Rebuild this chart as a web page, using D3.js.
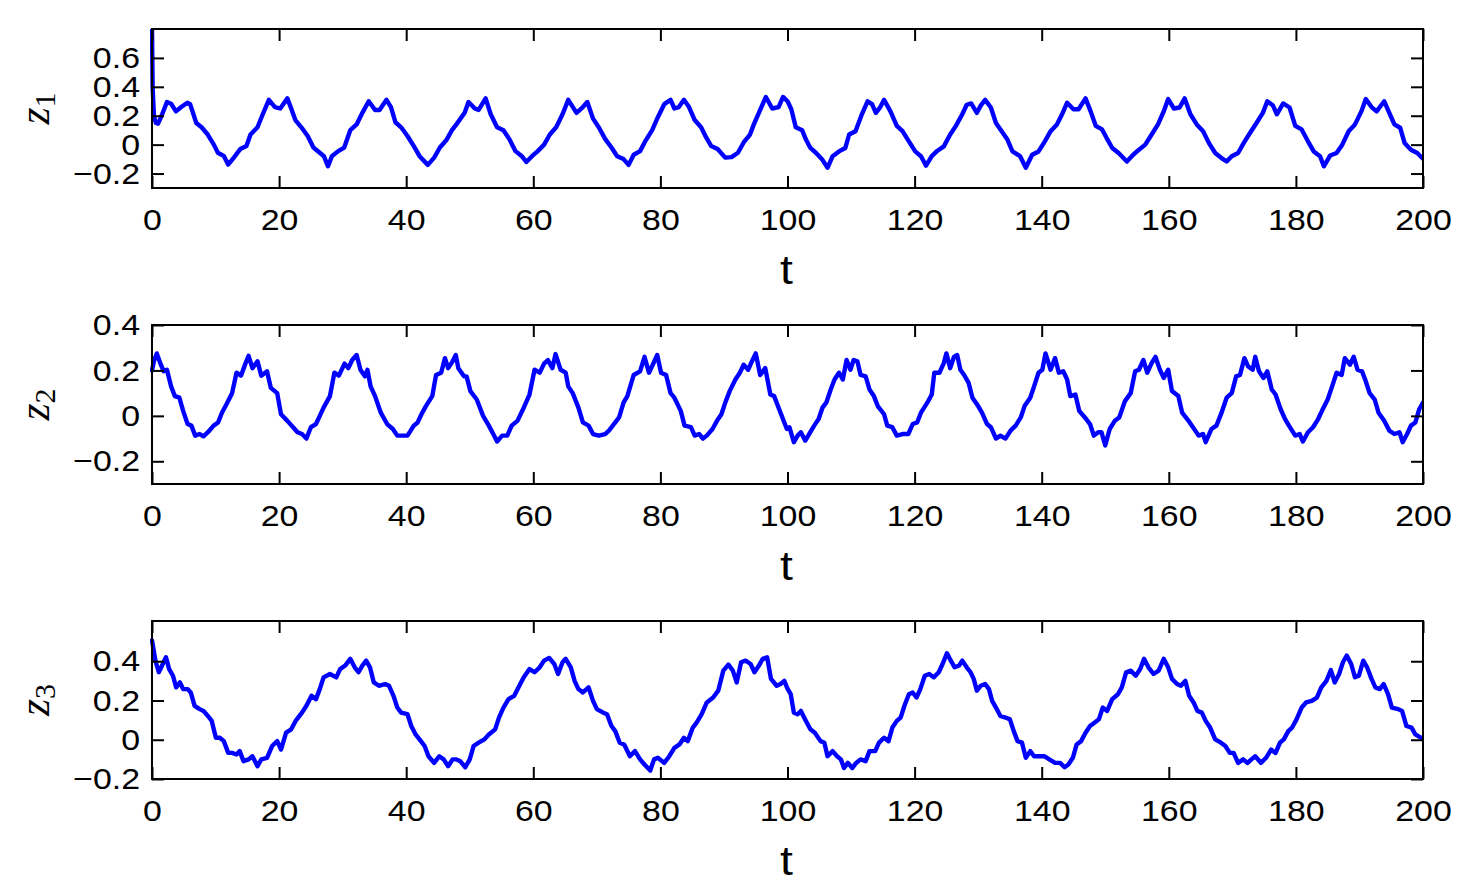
<!DOCTYPE html>
<html>
<head>
<meta charset="utf-8">
<script src="https://cdn.jsdelivr.net/npm/d3@7"></script>
<style>
  html, body { margin: 0; padding: 0; background: #fff; }
  svg { display: block; }
</style>
</head>
<body>
<svg id="chart" width="1481" height="896"></svg>
<script>
// ---------------- DATA ----------------
const xTicks = [0, 20, 40, 60, 80, 100, 120, 140, 160, 180, 200];
const z1Ticks = [-0.2, 0, 0.2, 0.4, 0.6];
const z2Ticks = [-0.2, 0, 0.2, 0.4];
const z3Ticks = [-0.2, 0, 0.2, 0.4];
const z1Domain = [-0.3, 0.8];
const z2Domain = [-0.3, 0.4];
const z3Domain = [-0.2, 0.605];
const panelLabels = ["1", "2", "3"];

const z1 = [[0,0.80],[0.1,0.40],[0.3,0.20],[0.6,0.15],[0.95,0.145],[1.6,0.21],[2.35,0.295],[3.0,0.283],[3.77,0.23],[4.6,0.26],[5.56,0.29],[6.0,0.28],[6.52,0.21],[6.97,0.15],[7.8,0.12],[8.77,0.07],[9.73,0.0],[10.37,-0.056],[11.33,-0.08],[11.98,-0.138],[12.94,-0.086],[13.9,-0.03],[14.86,-0.01],[15.5,0.07],[16.6,0.12],[17.43,0.21],[18.39,0.31],[19.35,0.26],[20.18,0.25],[21.3,0.32],[21.9,0.25],[22.56,0.17],[23.5,0.12],[24.5,0.06],[25.4,-0.02],[26.4,-0.056],[27.05,-0.08],[27.7,-0.15],[28.3,-0.08],[29.3,-0.045],[30.25,-0.02],[31.2,0.1],[32.2,0.14],[33.1,0.22],[34.1,0.30],[35.1,0.24],[35.8,0.24],[36.9,0.31],[37.6,0.26],[38.3,0.155],[39.2,0.12],[40.2,0.06],[41.2,-0.01],[42.1,-0.08],[43.4,-0.14],[44.4,-0.09],[45.3,-0.02],[46.3,0.03],[47.2,0.1],[47.9,0.14],[49.2,0.22],[49.8,0.295],[50.8,0.25],[51.4,0.24],[52.5,0.32],[53.3,0.21],[54.3,0.12],[55.3,0.1],[56.2,0.04],[57.2,-0.045],[58.2,-0.08],[58.9,-0.12],[59.8,-0.08],[60.7,-0.045],[61.7,0.0],[62.6,0.07],[63.6,0.12],[64.6,0.21],[65.5,0.31],[66.8,0.22],[67.8,0.26],[68.5,0.295],[69.4,0.18],[70.3,0.12],[71.3,0.04],[72.3,-0.02],[73.2,-0.08],[74.2,-0.1],[75.0,-0.14],[75.8,-0.07],[76.8,-0.045],[77.7,0.03],[78.7,0.1],[79.6,0.19],[80.6,0.28],[81.6,0.31],[82.2,0.25],[82.9,0.26],[83.7,0.31],[84.5,0.26],[85.4,0.17],[86.4,0.12],[87.2,0.05],[88.0,-0.01],[89.0,-0.03],[90.2,-0.09],[91.2,-0.086],[92.2,-0.056],[93.1,0.015],[94.1,0.07],[94.7,0.14],[95.7,0.24],[96.6,0.33],[97.6,0.25],[98.6,0.26],[99.3,0.33],[100.0,0.30],[100.6,0.245],[101.3,0.12],[102.3,0.10],[102.9,0.035],[103.6,-0.023],[104.5,-0.058],[105.5,-0.105],[106.3,-0.16],[107.1,-0.08],[108.1,-0.047],[109.1,-0.023],[109.7,0.07],[110.7,0.093],[111.7,0.21],[112.6,0.30],[113.3,0.28],[113.9,0.22],[114.6,0.26],[115.2,0.31],[116.2,0.23],[117.2,0.13],[118.1,0.093],[119.1,0.023],[120.1,-0.047],[121.0,-0.08],[121.8,-0.145],[122.7,-0.08],[123.6,-0.042],[124.6,-0.012],[125.6,0.07],[126.5,0.13],[127.5,0.21],[128.2,0.276],[128.9,0.285],[129.8,0.22],[130.4,0.27],[131.1,0.31],[132.0,0.257],[132.8,0.15],[133.7,0.093],[134.6,0.035],[135.4,-0.047],[136.6,-0.08],[137.5,-0.16],[138.5,-0.07],[139.5,-0.047],[140.5,0.023],[141.4,0.093],[142.4,0.14],[143.2,0.21],[144.0,0.29],[145.0,0.245],[145.8,0.245],[146.9,0.32],[147.7,0.23],[148.5,0.13],[149.5,0.105],[150.2,0.047],[151.1,-0.023],[152.1,-0.058],[153.4,-0.117],[154.4,-0.07],[155.3,-0.035],[156.3,0.0],[157.3,0.07],[158.3,0.14],[159.2,0.23],[159.9,0.315],[160.8,0.25],[161.7,0.257],[162.5,0.32],[163.4,0.21],[164.4,0.14],[165.4,0.093],[166.3,0.012],[167.3,-0.058],[168.3,-0.093],[169.1,-0.117],[169.9,-0.08],[170.9,-0.058],[171.8,0.012],[172.8,0.082],[173.8,0.15],[174.8,0.22],[175.5,0.30],[176.4,0.27],[177.0,0.21],[178.0,0.285],[179.0,0.257],[179.9,0.13],[180.9,0.105],[181.9,0.023],[182.8,-0.047],[183.8,-0.08],[184.4,-0.15],[185.4,-0.075],[186.4,-0.058],[187.3,0.0],[188.3,0.093],[189.3,0.14],[190.3,0.23],[191.0,0.315],[191.9,0.26],[192.7,0.23],[193.9,0.30],[194.8,0.21],[195.5,0.14],[196.4,0.117],[197.1,0.012],[198.1,-0.035],[199.1,-0.058],[200,-0.098]];

const z2 = [[0,0.20],[0.3,0.24],[0.75,0.275],[1.4,0.225],[1.85,0.196],[2.35,0.203],[3.0,0.13],[3.6,0.087],[4.3,0.08],[4.9,0.022],[5.6,-0.036],[6.2,-0.043],[6.8,-0.087],[7.5,-0.08],[8.1,-0.09],[8.8,-0.072],[9.7,-0.043],[10.4,-0.029],[11.0,0.014],[11.7,0.05],[12.6,0.1],[13.3,0.19],[14.0,0.177],[14.7,0.23],[15.2,0.264],[15.8,0.21],[16.6,0.24],[17.2,0.177],[18.1,0.196],[18.7,0.123],[19.7,0.1],[20.3,0.007],[21.3,-0.022],[22.2,-0.05],[22.9,-0.072],[23.6,-0.08],[24.3,-0.1],[25.0,-0.05],[25.8,-0.036],[26.4,0.0],[27.0,0.036],[28.0,0.087],[28.7,0.19],[29.4,0.177],[30.3,0.23],[30.9,0.21],[31.5,0.246],[32.2,0.268],[32.8,0.203],[33.5,0.174],[33.9,0.203],[34.4,0.13],[35.1,0.087],[36.0,0.014],[37.0,-0.036],[37.9,-0.058],[38.6,-0.087],[39.6,-0.087],[40.2,-0.087],[41.2,-0.043],[41.8,-0.029],[42.4,0.007],[43.1,0.043],[44.1,0.087],[44.7,0.18],[45.5,0.19],[46.1,0.254],[46.6,0.21],[47.3,0.24],[47.8,0.268],[48.2,0.21],[49.1,0.174],[49.5,0.174],[50.1,0.109],[51.1,0.072],[52.1,0.0],[53.0,-0.043],[53.7,-0.08],[54.3,-0.113],[55.1,-0.087],[55.9,-0.087],[56.6,-0.043],[57.5,-0.022],[58.5,0.036],[59.4,0.094],[60.2,0.203],[61.0,0.19],[61.7,0.23],[62.3,0.246],[63.0,0.21],[63.5,0.272],[64.3,0.203],[65.1,0.19],[65.5,0.13],[66.2,0.1],[67.1,0.036],[67.8,-0.029],[68.7,-0.043],[69.4,-0.08],[70.3,-0.087],[71.3,-0.08],[71.9,-0.065],[72.9,-0.029],[73.5,-0.007],[74.2,0.058],[74.8,0.087],[75.8,0.18],[76.8,0.196],[77.5,0.26],[78.2,0.19],[78.8,0.225],[79.5,0.268],[80.1,0.19],[80.9,0.18],[81.6,0.1],[82.2,0.08],[83.2,0.022],[83.8,-0.043],[84.8,-0.05],[85.4,-0.087],[86.1,-0.08],[86.7,-0.1],[87.3,-0.087],[88.2,-0.058],[88.9,-0.022],[89.6,0.007],[90.2,0.058],[90.9,0.109],[91.8,0.16],[92.5,0.19],[93.1,0.225],[93.8,0.203],[94.4,0.24],[95.0,0.275],[95.7,0.18],[96.5,0.21],[97.3,0.094],[97.9,0.087],[98.9,0.014],[99.9,-0.058],[100.3,-0.05],[101.0,-0.116],[101.6,-0.087],[102.1,-0.072],[102.8,-0.109],[103.4,-0.08],[104.2,-0.043],[104.9,-0.014],[105.5,0.036],[106.1,0.058],[106.8,0.116],[107.4,0.16],[108.1,0.19],[108.7,0.16],[109.3,0.246],[109.9,0.203],[110.4,0.246],[111.0,0.24],[111.5,0.18],[112.3,0.174],[112.9,0.116],[113.6,0.087],[114.2,0.043],[115.2,0.007],[115.7,-0.043],[116.5,-0.05],[117.2,-0.087],[118.1,-0.08],[119.0,-0.08],[119.7,-0.036],[120.4,-0.029],[121.0,0.014],[122.0,0.058],[122.7,0.094],[123.1,0.19],[123.9,0.19],[124.6,0.232],[125.0,0.275],[125.6,0.21],[126.2,0.26],[126.7,0.268],[127.2,0.203],[127.8,0.18],[128.5,0.145],[129.1,0.08],[130.0,0.043],[130.6,0.014],[131.4,-0.036],[132.0,-0.05],[132.8,-0.1],[133.5,-0.087],[134.3,-0.1],[135.1,-0.065],[135.9,-0.043],[136.7,-0.007],[137.3,0.043],[138.2,0.08],[138.8,0.13],[139.5,0.19],[140.1,0.203],[140.6,0.275],[141.4,0.203],[142.1,0.254],[142.7,0.19],[143.4,0.196],[144.0,0.16],[144.5,0.087],[145.3,0.094],[145.9,0.022],[146.8,-0.007],[147.6,-0.036],[148.2,-0.087],[148.9,-0.072],[149.4,-0.072],[150.0,-0.13],[150.7,-0.058],[151.5,-0.022],[152.2,-0.007],[153.1,0.065],[154.0,0.1],[154.7,0.196],[155.3,0.203],[156.0,0.246],[156.6,0.19],[157.3,0.232],[157.9,0.26],[158.6,0.203],[159.2,0.167],[159.9,0.203],[160.5,0.109],[161.5,0.087],[162.1,0.014],[163.1,-0.022],[163.8,-0.05],[164.7,-0.087],[165.4,-0.08],[165.8,-0.116],[166.7,-0.058],[167.5,-0.043],[168.3,0.014],[169.1,0.08],[169.9,0.1],[170.6,0.174],[171.2,0.18],[171.9,0.254],[172.5,0.217],[173.2,0.203],[173.6,0.26],[174.2,0.196],[174.9,0.167],[175.5,0.196],[176.2,0.116],[176.8,0.094],[177.6,0.029],[178.3,-0.014],[178.9,-0.043],[179.9,-0.087],[180.6,-0.08],[181.1,-0.113],[181.9,-0.072],[182.7,-0.05],[183.5,-0.014],[184.1,0.022],[185.0,0.072],[185.7,0.13],[186.4,0.19],[187.2,0.18],[187.7,0.254],[188.5,0.225],[189.1,0.26],[189.7,0.203],[190.4,0.196],[190.9,0.16],[191.6,0.1],[192.4,0.072],[193.0,0.014],[193.9,-0.022],[194.7,-0.065],[195.5,-0.08],[196.3,-0.072],[196.8,-0.116],[197.5,-0.08],[198.1,-0.043],[198.8,-0.029],[199.4,0.029],[200,0.058]];

const z3 = [[0,0.506],[0.56,0.40],[1.07,0.344],[1.7,0.386],[2.2,0.42],[2.7,0.36],[3.3,0.326],[3.8,0.267],[4.4,0.292],[4.9,0.258],[5.6,0.258],[6.1,0.241],[6.7,0.173],[7.5,0.156],[8.1,0.147],[8.8,0.121],[9.4,0.096],[10.05,0.01],[10.7,0.01],[11.3,-0.007],[12.0,-0.067],[12.6,-0.067],[13.3,-0.075],[13.8,-0.058],[14.4,-0.109],[15.2,-0.1],[15.8,-0.084],[16.6,-0.135],[17.2,-0.1],[18.1,-0.092],[18.9,-0.032],[19.7,-0.007],[20.3,-0.05],[21.1,0.036],[21.9,0.053],[22.6,0.096],[23.6,0.138],[24.3,0.173],[25.1,0.224],[25.8,0.207],[26.4,0.258],[27.0,0.318],[28.0,0.335],[29.0,0.318],[29.6,0.36],[30.4,0.378],[31.2,0.412],[31.9,0.369],[32.5,0.344],[33.1,0.378],[33.7,0.403],[34.3,0.369],[34.9,0.292],[35.7,0.275],[36.7,0.284],[37.3,0.275],[38.0,0.224],[38.6,0.164],[39.2,0.138],[40.2,0.13],[40.8,0.07],[41.5,0.026],[42.1,0.002],[42.9,-0.032],[43.5,-0.084],[44.4,-0.118],[45.2,-0.084],[45.9,-0.1],[46.6,-0.135],[47.3,-0.1],[47.9,-0.1],[48.5,-0.109],[49.3,-0.14],[50.0,-0.1],[50.6,-0.032],[51.4,-0.015],[52.3,0.002],[53.0,0.027],[54.0,0.053],[54.6,0.113],[55.3,0.164],[56.1,0.207],[57.0,0.224],[57.8,0.275],[58.5,0.318],[59.4,0.36],[60.2,0.344],[61.0,0.369],[61.7,0.403],[62.5,0.417],[63.3,0.386],[63.9,0.335],[64.6,0.395],[65.1,0.412],[65.9,0.369],[66.5,0.3],[67.1,0.258],[67.8,0.241],[68.7,0.267],[69.4,0.198],[70.0,0.156],[71.0,0.138],[71.6,0.13],[72.3,0.07],[72.9,0.044],[73.6,-0.015],[74.3,-0.024],[75.2,-0.084],[76.0,-0.058],[76.8,-0.1],[77.5,-0.126],[78.4,-0.157],[79.0,-0.1],[79.6,-0.092],[80.6,-0.118],[81.4,-0.084],[82.2,-0.041],[83.0,-0.024],[83.7,0.01],[84.3,-0.007],[85.1,0.062],[85.7,0.087],[86.5,0.13],[87.3,0.19],[88.3,0.215],[89.1,0.25],[89.9,0.352],[90.7,0.383],[91.4,0.352],[92.0,0.292],[92.7,0.395],[93.4,0.403],[94.2,0.386],[94.8,0.344],[95.5,0.378],[96.1,0.412],[96.8,0.42],[97.4,0.31],[98.3,0.275],[98.9,0.284],[99.5,0.3],[100.0,0.26],[100.5,0.232],[101.0,0.138],[101.6,0.13],[102.1,0.147],[102.9,0.096],[103.6,0.053],[104.3,0.036],[105.2,-0.007],[105.8,-0.015],[106.3,-0.084],[107.1,-0.058],[107.8,-0.084],[108.4,-0.1],[108.9,-0.144],[109.5,-0.118],[110.2,-0.144],[110.8,-0.118],[111.5,-0.1],[112.3,-0.109],[112.9,-0.058],[113.8,-0.058],[114.4,-0.015],[115.2,0.01],[115.9,-0.007],[116.5,0.062],[117.2,0.096],[117.8,0.113],[118.4,0.173],[119.1,0.232],[119.7,0.241],[120.3,0.215],[120.9,0.258],[121.6,0.326],[122.3,0.335],[123.0,0.318],[123.8,0.344],[124.4,0.386],[125.1,0.441],[125.7,0.403],[126.3,0.369],[127.0,0.378],[127.5,0.403],[128.2,0.369],[128.8,0.344],[129.3,0.31],[129.8,0.25],[130.4,0.275],[131.1,0.284],[131.7,0.258],[132.2,0.198],[132.8,0.164],[133.5,0.121],[134.3,0.113],[135.0,0.104],[135.6,0.044],[136.2,-0.007],[136.9,-0.015],[137.5,-0.092],[138.2,-0.058],[138.8,-0.084],[139.6,-0.084],[140.4,-0.084],[141.2,-0.1],[142.1,-0.118],[142.9,-0.118],[143.6,-0.14],[144.2,-0.126],[144.9,-0.092],[145.5,-0.024],[146.2,-0.007],[146.9,0.036],[147.6,0.07],[148.3,0.087],[149.0,0.104],[149.6,0.164],[150.3,0.147],[151.1,0.207],[152.0,0.232],[152.6,0.267],[153.3,0.344],[154.0,0.352],[154.8,0.326],[155.5,0.36],[156.1,0.412],[156.8,0.369],[157.6,0.335],[158.4,0.352],[159.2,0.412],[159.9,0.369],[160.5,0.31],[161.3,0.284],[161.9,0.275],[162.6,0.3],[163.2,0.224],[163.9,0.19],[164.5,0.147],[165.2,0.138],[165.8,0.096],[166.5,0.062],[167.3,0.002],[168.2,-0.015],[168.9,-0.032],[169.6,-0.067],[170.2,-0.067],[170.9,-0.118],[171.7,-0.1],[172.4,-0.118],[173.0,-0.1],[173.6,-0.084],[174.5,-0.118],[175.3,-0.092],[176.1,-0.05],[176.8,-0.067],[177.5,-0.015],[178.1,0.002],[178.8,0.044],[179.4,0.062],[180.1,0.104],[180.9,0.164],[181.6,0.19],[182.5,0.198],[183.3,0.215],[184.0,0.267],[184.8,0.3],[185.5,0.355],[186.1,0.292],[186.8,0.335],[187.4,0.395],[188.0,0.429],[188.7,0.386],[189.3,0.318],[189.9,0.326],[190.6,0.403],[191.2,0.369],[191.9,0.31],[192.5,0.267],[193.2,0.258],[193.8,0.284],[194.5,0.232],[195.1,0.164],[196.1,0.156],[196.7,0.147],[197.4,0.07],[198.2,0.062],[198.8,0.027],[199.7,0.01],[200,0.01]];

// ---------------- LAYOUT ----------------
const svg = d3.select("#chart");
svg.append("rect").attr("width", 1481).attr("height", 896).attr("fill", "#fff");

const left = 152, right = 1423;
const panels = [
  { data: z1, domain: z1Domain, ticks: z1Ticks, top: 29, bottom: 188, sub: panelLabels[0] },
  { data: z2, domain: z2Domain, ticks: z2Ticks, top: 325, bottom: 484, sub: panelLabels[1] },
  { data: z3, domain: z3Domain, ticks: z3Ticks, top: 621, bottom: 779, sub: panelLabels[2] }
];

const x = d3.scaleLinear().domain([0, 200]).range([left, right]);
const fmtY = d => d === 0 ? "0" : d3.format(".1f")(d);
const FONT = "'Liberation Sans', Arial, Helvetica, sans-serif";
const TICKFS = 30;

panels.forEach((p, i) => {
  const y = d3.scaleLinear().domain(p.domain).range([p.bottom, p.top]);
  const g = svg.append("g");

  // clip (a little slack on the left so the initial spike at t=0 shows fully)
  const cid = "clip" + i;
  svg.append("defs").append("clipPath").attr("id", cid)
    .append("rect").attr("x", left - 2).attr("y", p.top)
    .attr("width", right - left + 2).attr("height", p.bottom - p.top);

  // line
  const line = d3.line().x(d => x(d[0])).y(d => y(d[1]));
  g.append("path")
    .datum(p.data)
    .attr("clip-path", `url(#${cid})`)
    .attr("fill", "none")
    .attr("stroke", "#0000ff")
    .attr("stroke-width", 4.4)
    .attr("stroke-linejoin", "round")
    .attr("stroke-linecap", "round")
    .attr("d", line);

  // axes
  const bottomAxis = g.append("g").attr("class", "tickax")
    .attr("transform", `translate(0,${p.bottom})`)
    .call(d3.axisBottom(x).tickValues(xTicks).tickSizeInner(-12).tickSizeOuter(0).tickPadding(21).tickFormat(d3.format("d")));
  const topAxis = g.append("g")
    .attr("transform", `translate(0,${p.top})`)
    .call(d3.axisTop(x).tickValues(xTicks).tickSizeInner(-12).tickSizeOuter(0).tickFormat(""));
  const leftAxis = g.append("g").attr("class", "tickax")
    .attr("transform", `translate(${left},0)`)
    .call(d3.axisLeft(y).tickValues(p.ticks).tickSizeInner(-12).tickSizeOuter(0).tickPadding(12).tickFormat(fmtY));
  const rightAxis = g.append("g")
    .attr("transform", `translate(${right},0)`)
    .call(d3.axisRight(y).tickValues(p.ticks).tickSizeInner(-12).tickSizeOuter(0).tickFormat(""));

  [bottomAxis, topAxis, leftAxis, rightAxis].forEach(a => {
    a.select(".domain").remove();
    a.selectAll(".tick line").attr("stroke", "#000").attr("stroke-width", 2);
  });
  [bottomAxis, leftAxis].forEach(a => {
    a.selectAll(".tick text")
      .attr("fill", "#000")
      .style("font-family", FONT)
      .style("font-size", TICKFS + "px");
  });

  // box
  g.append("rect")
    .attr("x", left).attr("y", p.top)
    .attr("width", right - left).attr("height", p.bottom - p.top)
    .attr("fill", "none").attr("stroke", "#000").attr("stroke-width", 2);

  // x label
  g.append("text")
    .attr("class", "stretch")
    .attr("x", (left + right) / 2 - 1)
    .attr("y", p.bottom + 96)
    .attr("text-anchor", "middle")
    .style("font-family", FONT)
    .style("font-size", "41px")
    .attr("fill", "#000")
    .text("t");

  // y label (z_i), rotated
  const cy = (p.top + p.bottom) / 2;
  const lab = g.append("text")
    .attr("transform", `translate(49,${cy}) rotate(-90)`)
    .attr("text-anchor", "middle")
    .attr("fill", "#000");
  lab.append("tspan")
    .style("font-family", "'Liberation Serif', 'Times New Roman', serif")
    .style("font-style", "italic")
    .style("font-size", "44px")
    .text("z");
  lab.append("tspan")
    .attr("dy", 6)
    .style("font-family", "'Liberation Serif', 'Times New Roman', serif")
    .style("font-size", "30px")
    .text(p.sub);
});

// widen the sans-serif glyphs slightly (reference font is wider than Liberation Sans)
svg.selectAll(".tickax .tick text, text.stretch").each(function() {
  const w = this.getComputedTextLength();
  d3.select(this).attr("textLength", w * 1.13).attr("lengthAdjust", "spacingAndGlyphs");
});
</script>
</body>
</html>
